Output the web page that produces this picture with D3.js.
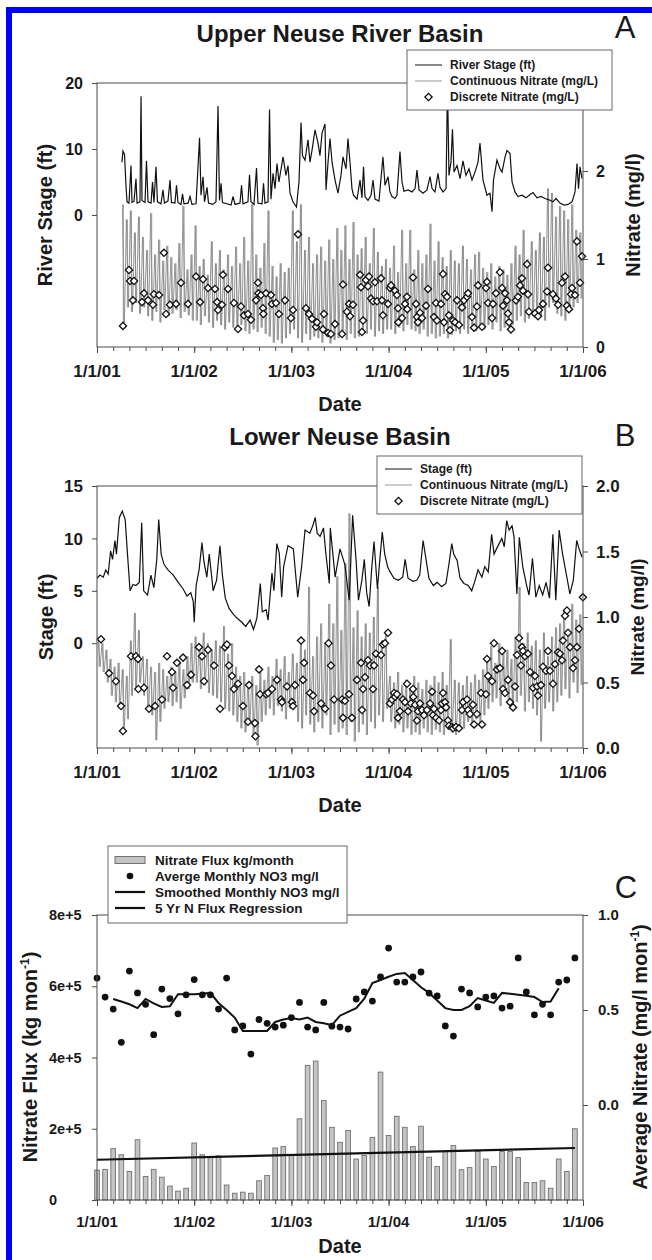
<!DOCTYPE html>
<html><head><meta charset="utf-8">
<script src="https://cdn.jsdelivr.net/npm/d3@7"></script>
<style>
html,body{margin:0;padding:0;background:#fff;}
svg{display:block;font-family:"Liberation Sans",Arial,Helvetica,sans-serif;}
</style></head><body>
<svg id="chart" width="652" height="1260"></svg>
<script>
// ---------------- DATA ----------------
// x values are years since 1/1/01
const yearTicks = [0,1,2,3,4,5];
const yearLabels = ["1/1/01","1/1/02","1/1/03","1/1/04","1/1/05","1/1/06"];

// Panel A: Upper Neuse River Basin
const stageA = [[0.257,8.0],[0.267,9.7],[0.283,9.2],[0.298,4.5],[0.309,2.0],[0.329,1.8],[0.350,7.5],[0.360,1.9],[0.381,2.1],[0.401,5.5],[0.412,1.8],[0.442,2.0],[0.453,18.0],[0.463,2.2],[0.494,1.9],[0.509,8.2],[0.525,2.0],[0.556,1.8],[0.571,5.0],[0.586,1.9],[0.607,7.3],[0.622,2.0],[0.658,1.7],[0.679,3.8],[0.694,1.8],[0.730,2.1],[0.751,5.3],[0.766,1.9],[0.802,1.8],[0.818,4.5],[0.833,1.9],[0.864,1.6],[0.880,3.2],[0.895,1.7],[0.936,1.8],[0.957,2.8],[0.977,1.6],[1.019,1.7],[1.055,11.7],[1.070,3.0],[1.091,5.8],[1.106,2.0],[1.132,4.2],[1.147,1.8],[1.193,1.6],[1.224,2.0],[1.245,16.5],[1.260,2.2],[1.276,4.8],[1.291,1.9],[1.337,1.7],[1.379,1.5],[1.399,2.8],[1.420,1.6],[1.471,1.8],[1.487,4.5],[1.502,1.7],[1.553,2.0],[1.569,6.1],[1.584,2.0],[1.615,1.6],[1.641,7.1],[1.656,1.8],[1.698,1.7],[1.713,4.8],[1.728,1.8],[1.759,2.0],[1.775,16.0],[1.790,2.4],[1.811,6.3],[1.831,4.0],[1.852,7.8],[1.872,5.0],[1.914,8.8],[1.944,6.0],[1.965,7.5],[1.986,3.3],[2.016,2.0],[2.052,1.2],[2.078,5.0],[2.099,14.0],[2.114,9.0],[2.140,8.3],[2.171,11.4],[2.191,8.0],[2.212,9.8],[2.243,12.9],[2.274,10.9],[2.294,9.0],[2.315,12.4],[2.346,13.8],[2.356,3.8],[2.377,8.0],[2.397,11.6],[2.418,8.0],[2.449,5.3],[2.479,3.3],[2.510,6.0],[2.531,8.8],[2.562,7.0],[2.582,11.6],[2.603,8.0],[2.623,4.0],[2.639,3.0],[2.675,2.4],[2.706,5.3],[2.726,2.6],[2.742,7.3],[2.757,2.8],[2.788,2.2],[2.819,3.0],[2.840,5.3],[2.860,2.4],[2.901,2.1],[2.942,8.8],[2.963,4.5],[2.994,5.8],[3.014,3.5],[3.035,2.8],[3.066,2.5],[3.086,3.0],[3.117,9.6],[3.138,5.0],[3.158,3.6],[3.200,3.8],[3.241,3.5],[3.272,4.0],[3.292,6.8],[3.313,3.8],[3.354,3.3],[3.395,3.8],[3.426,5.8],[3.447,4.0],[3.477,3.5],[3.508,6.3],[3.529,4.2],[3.560,3.5],[3.591,4.0],[3.606,20.0],[3.621,6.0],[3.642,8.0],[3.657,13.0],[3.673,6.5],[3.704,7.5],[3.735,5.5],[3.765,8.2],[3.796,6.0],[3.827,7.0],[3.858,5.3],[3.889,6.5],[3.920,8.0],[3.940,10.9],[3.971,5.3],[4.012,3.0],[4.043,3.3],[4.064,0.5],[4.079,5.3],[4.115,8.3],[4.146,7.0],[4.167,6.5],[4.198,8.8],[4.218,9.8],[4.249,9.3],[4.270,5.0],[4.300,3.5],[4.331,2.8],[4.372,3.0],[4.414,2.6],[4.455,3.1],[4.486,3.4],[4.527,2.6],[4.568,2.8],[4.609,2.5],[4.650,2.3],[4.691,2.0],[4.722,2.5],[4.763,1.8],[4.804,1.5],[4.846,1.6],[4.887,2.0],[4.918,3.5],[4.938,7.8],[4.954,4.0],[4.969,7.3],[4.990,5.5]];

// continuous nitrate A: half-month bins, peak and dip per bin
const contAStart = 0.25;
const contAHi = [1.62,1.45,1.55,1.30,1.48,1.25, 1.10,1.52,1.05,1.22,0.98,1.15, 1.02,0.95,1.18,1.60,0.88,1.05, 1.38,0.92,1.00,0.82,1.20,0.95, 1.10,0.88,1.05,0.92,1.14,0.95, 1.25,0.98,1.62,1.05,0.90,1.18, 1.55,0.92,0.80,0.95,0.85,0.90, 1.55,1.20,1.62,1.10,1.25,0.95, 1.05,1.14,0.98,1.22,1.00,1.35, 1.10,1.38,1.00,1.42,1.05,1.12, 1.25,0.95,1.35,1.08,0.92,1.00, 0.90,1.15,0.85,1.33,0.95,1.33, 0.88,1.10,0.95,1.05,1.40,0.98, 1.20,1.02,0.92,1.10,0.98,0.95, 1.15,1.00,0.88,1.05,1.08,0.90, 0.85,0.95,0.80,0.92,0.88,0.82, 0.95,1.15,1.05,1.33,1.00,1.20, 1.10,1.30,1.25,1.80,1.75,1.48, 1.60,1.55,1.45,1.62,1.33,1.30];
const contALo = [0.22,0.45,0.40,0.50,0.38,0.45, 0.35,0.30,0.40,0.28,0.42,0.35, 0.38,0.42,0.33,0.40,0.36,0.30, 0.30,0.25,0.35,0.28,0.22,0.30, 0.25,0.20,0.28,0.22,0.18,0.25, 0.18,0.15,0.20,0.17,0.22,0.15, 0.12,0.05,0.08,0.04,0.10,0.15, 0.20,0.10,0.05,0.15,0.08,0.12, 0.10,0.05,0.12,0.04,0.08,0.10, 0.12,0.08,0.15,0.10,0.12,0.18, 0.15,0.20,0.12,0.18,0.15,0.20, 0.20,0.15,0.22,0.18,0.25,0.20, 0.18,0.15,0.20,0.12,0.15,0.10, 0.12,0.15,0.10,0.14,0.18,0.15, 0.20,0.15,0.22,0.18,0.25,0.20, 0.25,0.20,0.28,0.18,0.22,0.25, 0.25,0.30,0.35,0.28,0.32,0.35, 0.40,0.35,0.30,0.45,0.50,0.38, 0.35,0.30,0.40,0.45,0.50,0.55];

const discA = [[0.267,0.24],[0.329,0.875],[0.340,0.75],[0.370,0.53],[0.381,0.75],[0.463,0.51],[0.484,0.61],[0.525,0.53],[0.576,0.48],[0.586,0.60],[0.638,0.59],[0.689,1.07],[0.710,0.375],[0.751,0.48],[0.813,0.49],[0.864,0.73],[0.936,0.49],[1.019,0.80],[1.060,0.51],[1.091,0.77],[1.142,0.67],[1.214,0.66],[1.235,0.51],[1.245,0.42],[1.286,0.48],[1.296,0.82],[1.348,0.66],[1.409,0.50],[1.451,0.205],[1.481,0.46],[1.512,0.36],[1.553,0.375],[1.584,0.31],[1.636,0.53],[1.656,0.73],[1.660,0.61],[1.687,0.59],[1.708,0.44],[1.712,0.375],[1.739,0.61],[1.790,0.59],[1.800,0.49],[1.842,0.50],[1.872,0.375],[1.934,0.53],[1.996,0.33],[2.016,0.42],[2.068,1.28],[2.150,0.44],[2.181,0.375],[2.212,0.32],[2.253,0.23],[2.263,0.28],[2.325,0.20],[2.335,0.375],[2.377,0.16],[2.407,0.148],[2.449,0.26],[2.521,0.148],[2.531,0.71],[2.572,0.40],[2.593,0.49],[2.603,0.35],[2.634,0.48],[2.706,0.82],[2.716,0.68],[2.726,0.17],[2.737,0.30],[2.767,0.76],[2.788,0.69],[2.798,0.80],[2.819,0.55],[2.840,0.52],[2.860,0.735],[2.881,0.52],[2.922,0.78],[2.932,0.53],[2.942,0.36],[2.994,0.49],[3.014,0.67],[3.025,0.70],[3.066,0.64],[3.086,0.59],[3.097,0.44],[3.100,0.28],[3.138,0.33],[3.169,0.49],[3.189,0.57],[3.192,0.43],[3.251,0.79],[3.282,0.49],[3.292,0.34],[3.302,0.28],[3.323,0.39],[3.344,0.33],[3.385,0.47],[3.405,0.66],[3.467,0.34],[3.488,0.50],[3.498,0.30],[3.539,0.49],[3.560,0.83],[3.570,0.28],[3.580,0.60],[3.601,0.57],[3.621,0.36],[3.632,0.19],[3.663,0.30],[3.683,0.28],[3.704,0.53],[3.724,0.25],[3.755,0.45],[3.776,0.53],[3.807,0.57],[3.817,0.61],[3.858,0.34],[3.879,0.22],[3.909,0.46],[3.920,0.70],[3.961,0.23],[4.002,0.67],[4.012,0.74],[4.023,0.50],[4.064,0.33],[4.074,0.49],[4.105,0.61],[4.146,0.85],[4.167,0.67],[4.177,0.47],[4.198,0.61],[4.218,0.53],[4.228,0.38],[4.239,0.28],[4.259,0.20],[4.311,0.53],[4.331,0.57],[4.352,0.70],[4.372,0.78],[4.383,0.64],[4.424,0.94],[4.434,0.60],[4.444,0.40],[4.506,0.38],[4.537,0.35],[4.547,0.42],[4.588,0.49],[4.630,0.63],[4.640,0.90],[4.691,0.60],[4.722,0.55],[4.743,0.48],[4.784,0.73],[4.815,0.80],[4.835,0.47],[4.856,0.43],[4.877,0.60],[4.887,0.67],[4.918,0.59],[4.938,1.20],[4.969,0.73],[4.990,1.03]];

// Panel B: Lower Neuse Basin
const stageB = [[0,6.2],[0.03,6.5],[0.065,6.3],[0.09,7.0],[0.115,6.6],[0.14,8.8],[0.16,8.0],[0.185,9.8],[0.2,8.5],[0.23,12.0],[0.26,12.6],[0.29,11.8],[0.31,9.0],[0.34,5.0],[0.37,5.6],[0.40,5.5],[0.435,5.8],[0.46,11.5],[0.48,5.0],[0.52,4.6],[0.555,6.5],[0.585,5.3],[0.615,8.0],[0.635,11.8],[0.66,8.5],[0.69,7.5],[0.73,7.0],[0.785,6.5],[0.835,5.8],[0.885,5.2],[0.925,4.5],[0.965,4.8],[0.99,4.0],[1.0,2.0],[1.02,5.5],[1.05,7.0],[1.08,9.6],[1.10,7.8],[1.13,6.3],[1.155,8.5],[1.195,5.0],[1.23,6.0],[1.265,9.3],[1.29,6.5],[1.32,4.3],[1.36,3.3],[1.40,2.8],[1.44,2.4],[1.49,2.0],[1.53,1.6],[1.575,2.2],[1.61,1.3],[1.645,2.4],[1.68,5.7],[1.70,3.0],[1.74,3.2],[1.76,2.2],[1.80,6.7],[1.82,5.0],[1.85,9.5],[1.875,8.6],[1.90,4.4],[1.92,7.3],[1.965,9.3],[2.02,9.0],[2.065,4.4],[2.105,7.3],[2.14,10.8],[2.19,10.5],[2.22,11.2],[2.245,12.0],[2.265,10.5],[2.295,10.2],[2.33,11.0],[2.355,8.5],[2.39,5.7],[2.40,11.0],[2.45,6.3],[2.50,9.0],[2.55,7.5],[2.595,4.1],[2.63,12.2],[2.665,8.0],[2.69,4.1],[2.725,6.0],[2.75,8.0],[2.775,4.8],[2.80,3.5],[2.825,7.0],[2.85,9.7],[2.885,5.2],[2.91,8.0],[2.935,10.6],[2.96,8.5],[2.99,7.3],[3.015,6.8],[3.055,6.2],[3.10,6.0],[3.145,6.3],[3.17,8.0],[3.20,6.2],[3.25,5.9],[3.29,6.0],[3.32,6.5],[3.355,9.8],[3.385,8.0],[3.415,6.2],[3.46,5.5],[3.50,5.8],[3.545,5.4],[3.59,5.7],[3.62,7.5],[3.65,9.5],[3.67,8.5],[3.705,7.9],[3.735,6.2],[3.775,5.7],[3.82,5.5],[3.855,5.0],[3.89,6.0],[3.92,7.0],[3.96,6.3],[3.99,7.3],[4.025,6.8],[4.06,10.4],[4.085,8.5],[4.11,9.0],[4.165,10.0],[4.19,9.2],[4.215,11.7],[4.24,10.8],[4.27,11.2],[4.29,10.2],[4.32,4.7],[4.345,10.1],[4.38,7.3],[4.42,5.5],[4.445,4.6],[4.48,8.1],[4.515,4.4],[4.55,5.5],[4.585,4.6],[4.62,5.8],[4.655,4.3],[4.69,10.4],[4.72,4.1],[4.755,10.8],[4.79,8.5],[4.83,6.5],[4.865,4.7],[4.90,6.0],[4.935,9.8],[4.96,9.0],[4.99,8.2]];

const contBStart = 0;
const contBHi = [0.85,0.80,0.75,0.68,0.62,0.65, 0.60,0.55,0.82,1.03,0.90,0.70, 0.68,0.62,0.58,0.65,0.60,0.55, 0.62,0.58,0.65,0.60,0.70,0.80, 0.85,0.78,0.88,0.80,0.75,0.82, 0.78,0.93,0.72,0.80,0.62,0.55, 0.58,0.50,0.55,0.48,0.60,0.52, 0.62,0.55,0.68,0.60,0.70,0.58, 0.72,0.65,0.80,0.75,1.23,0.70, 0.85,0.95,0.80,1.10,0.95,1.31, 0.90,1.41,1.79,0.92,1.05,0.85, 0.95,0.88,1.00,1.23,0.82,0.90, 0.55,0.50,0.58,0.48,0.52,0.45, 0.55,0.50,0.45,0.52,0.48,0.55, 0.50,0.58,0.48,0.83,0.52,0.50, 0.48,0.55,0.50,0.56,0.52,0.60, 0.70,0.78,0.65,0.80,0.72,0.75, 0.68,0.85,1.23,0.80,0.88,0.78, 0.82,0.75,0.88,0.70,0.85,0.92, 0.95,1.05,0.90,1.10,0.98,1.02];
const contBLo = [0.62,0.58,0.50,0.40,0.35,0.30, 0.15,0.22,0.40,0.45,0.50,0.40, 0.30,0.25,0.06,0.20,0.30,0.35, 0.32,0.35,0.30,0.38,0.45,0.50, 0.50,0.45,0.48,0.42,0.40,0.38, 0.35,0.30,0.28,0.25,0.20,0.15, 0.12,0.18,0.10,0.02,0.20,0.25, 0.30,0.25,0.32,0.28,0.22,0.30, 0.30,0.20,0.15,0.25,0.18,0.12, 0.20,0.15,0.25,0.10,0.18,0.12, 0.15,0.10,0.20,0.05,0.12,0.18, 0.10,0.20,0.15,0.25,0.20,0.30, 0.20,0.15,0.18,0.12,0.15,0.10, 0.12,0.10,0.15,0.12,0.10,0.14, 0.12,0.10,0.14,0.12,0.10,0.15, 0.15,0.20,0.18,0.22,0.18,0.25, 0.30,0.35,0.38,0.32,0.40,0.35, 0.30,0.35,0.40,0.28,0.35,0.30, 0.25,0.05,0.30,0.35,0.28,0.35, 0.40,0.45,0.38,0.50,0.42,0.48];

const discB = [[0.041,0.83],[0.123,0.57],[0.195,0.51],[0.247,0.32],[0.267,0.13],[0.350,0.70],[0.401,0.70],[0.422,0.68],[0.425,0.45],[0.484,0.46],[0.535,0.30],[0.597,0.32],[0.669,0.37],[0.720,0.70],[0.772,0.58],[0.782,0.46],[0.823,0.65],[0.885,0.69],[0.926,0.48],[0.967,0.56],[1.049,0.77],[1.080,0.70],[1.101,0.51],[1.142,0.75],[1.204,0.63],[1.265,0.30],[1.317,0.77],[1.337,0.79],[1.358,0.63],[1.389,0.55],[1.409,0.45],[1.451,0.49],[1.502,0.32],[1.553,0.20],[1.564,0.48],[1.625,0.19],[1.630,0.09],[1.667,0.60],[1.677,0.41],[1.739,0.41],[1.759,0.42],[1.800,0.45],[1.852,0.52],[1.893,0.37],[1.903,0.35],[1.955,0.47],[2.006,0.35],[2.016,0.32],[2.037,0.48],[2.099,0.82],[2.119,0.52],[2.130,0.65],[2.191,0.42],[2.222,0.40],[2.233,0.28],[2.305,0.34],[2.346,0.30],[2.382,0.80],[2.407,0.63],[2.438,0.37],[2.521,0.37],[2.531,0.23],[2.551,0.36],[2.593,0.41],[2.623,0.23],[2.675,0.52],[2.716,0.65],[2.726,0.29],[2.737,0.45],[2.757,0.54],[2.788,0.67],[2.809,0.63],[2.840,0.45],[2.850,0.63],[2.870,0.72],[2.922,0.71],[2.942,0.79],[2.963,0.80],[2.994,0.88],[3.014,0.34],[3.035,0.37],[3.056,0.42],[3.066,0.39],[3.086,0.41],[3.097,0.23],[3.117,0.28],[3.148,0.37],[3.169,0.35],[3.189,0.49],[3.200,0.28],[3.230,0.34],[3.251,0.45],[3.255,0.39],[3.272,0.33],[3.292,0.21],[3.302,0.28],[3.323,0.34],[3.344,0.29],[3.364,0.25],[3.395,0.29],[3.426,0.34],[3.447,0.43],[3.457,0.25],[3.467,0.30],[3.488,0.23],[3.519,0.21],[3.539,0.29],[3.549,0.34],[3.560,0.42],[3.580,0.35],[3.591,0.31],[3.611,0.21],[3.621,0.17],[3.652,0.16],[3.663,0.15],[3.693,0.16],[3.724,0.15],[3.755,0.29],[3.765,0.35],[3.807,0.37],[3.817,0.29],[3.837,0.26],[3.868,0.33],[3.879,0.18],[3.909,0.26],[3.951,0.42],[3.961,0.18],[4.002,0.41],[4.012,0.68],[4.023,0.55],[4.064,0.51],[4.084,0.80],[4.115,0.60],[4.146,0.61],[4.167,0.74],[4.177,0.45],[4.198,0.42],[4.228,0.52],[4.249,0.35],[4.280,0.31],[4.300,0.47],[4.321,0.71],[4.342,0.84],[4.362,0.63],[4.372,0.77],[4.383,0.74],[4.403,0.70],[4.434,0.72],[4.455,0.58],[4.486,0.46],[4.506,0.55],[4.527,0.47],[4.537,0.40],[4.568,0.48],[4.588,0.62],[4.619,0.59],[4.640,0.74],[4.660,0.59],[4.691,0.49],[4.712,0.64],[4.743,0.73],[4.763,0.72],[4.784,0.67],[4.794,0.82],[4.815,1.01],[4.835,1.05],[4.846,0.88],[4.866,0.77],[4.897,0.61],[4.918,0.67],[4.938,0.77],[4.959,0.91],[4.999,1.15]];

// Panel C: monthly values Jan 2001 .. Dec 2005
const fluxMonthly = [84000,86000,144000,127000,80000,169000,66000,86000,64000,39000,25000,33000,
  160000,127000,122000,124000,42000,19000,22000,19000,54000,69000,146000,150000,
  125000,228000,378000,390000,279000,204000,162000,195000,115000,125000,176000,359000,
  181000,235000,204000,150000,207000,120000,94000,136000,153000,85000,91000,136000,
  115000,94000,136000,136000,119000,49000,49000,54000,33000,115000,80000,200000];
const avgNO3 = [0.668,0.568,0.505,0.33,0.705,0.59,0.53,0.37,0.61,0.56,0.48,0.58,
  0.66,0.58,0.58,0.505,0.668,0.395,0.416,0.268,0.45,0.43,0.41,0.42,
  0.46,0.54,0.41,0.395,0.54,0.415,0.41,0.40,0.558,0.595,0.547,0.674,
  0.826,0.647,0.647,0.674,0.70,0.589,0.574,0.416,0.363,0.61,0.59,0.516,
  0.568,0.574,0.51,0.52,0.774,0.595,0.474,0.53,0.474,0.647,0.658,0.774];
const smoothStartMonth = 2;
const smoothNO3 = [0.558,0.545,0.53,0.51,0.558,0.535,0.516,0.52,0.583,0.583,0.583,0.585,0.59,0.537,0.50,0.46,0.39,0.39,0.39,0.39,0.437,0.45,0.458,0.45,0.46,0.437,0.43,0.42,0.47,0.49,0.51,0.56,0.642,0.658,0.675,0.69,0.695,0.658,0.62,0.59,0.55,0.51,0.50,0.50,0.52,0.563,0.55,0.537,0.59,0.585,0.58,0.575,0.568,0.542,0.545,0.615];
const regressionMonths = [0, 59];
const regressionFlux = [113000, 146000];

// ---------------- DRAWING ----------------
const svg = d3.select("#chart");
const TXT = "#1a1a1a", AX = "#4a4a4a";
const X0 = 97, X1 = 583;
const x = d3.scaleLinear().domain([0,5]).range([X0,X1]);
const minorTicks = d3.range(0, 5.001, 1/6);

// blue border
svg.append("rect").attr("x",6).attr("y",7).attr("width",6).attr("height",1253).attr("fill","#0000ff");
svg.append("rect").attr("x",6).attr("y",7).attr("width",646).attr("height",6).attr("fill","#0000ff");

function frame(yTop, yBot){
  svg.append("rect").attr("x",X0).attr("y",yTop).attr("width",X1-X0).attr("height",yBot-yTop)
    .attr("fill","none").attr("stroke",AX).attr("stroke-width",1);
}
function styleAxis(g){
  g.select(".domain").remove();
  g.selectAll("line").attr("stroke",AX).attr("stroke-width",1);
}
function xAxis(yBot, fs, labBase, dateBase){
  svg.append("g").attr("transform",`translate(0,${yBot})`)
    .call(d3.axisBottom(x).tickValues(minorTicks).tickSize(4).tickFormat("")).call(styleAxis);
  svg.append("g").attr("transform",`translate(0,${yBot})`)
    .call(d3.axisBottom(x).tickValues(yearTicks).tickSize(6).tickFormat("")).call(styleAxis);
  svg.append("g").selectAll("text").data(yearTicks).enter().append("text")
    .attr("x",d=>x(d)).attr("y",labBase).attr("text-anchor","middle")
    .attr("font-size",fs).attr("font-weight","bold").attr("fill",TXT)
    .text((d,i)=>yearLabels[i]);
  svg.append("text").attr("x",(X0+X1)/2).attr("y",dateBase).attr("text-anchor","middle")
    .attr("font-size",20).attr("font-weight","bold").attr("fill",TXT).text("Date");
}
function yLeft(scale, ticks, labels, fs, anchor, lx){
  svg.append("g").attr("transform",`translate(${X0},0)`)
    .call(d3.axisLeft(scale).tickValues(ticks).tickSize(5).tickFormat("")).call(styleAxis);
  svg.append("g").selectAll("text").data(ticks).enter().append("text")
    .attr("x",lx).attr("y",d=>scale(d)).attr("dy","0.36em").attr("text-anchor",anchor)
    .attr("font-size",fs).attr("font-weight","bold").attr("fill",TXT).text((d,i)=>labels[i]);
}
function yRight(scale, ticks, labels, fs, lx){
  svg.append("g").attr("transform",`translate(${X1},0)`)
    .call(d3.axisRight(scale).tickValues(ticks).tickSize(5).tickFormat("")).call(styleAxis);
  svg.append("g").selectAll("text").data(ticks).enter().append("text")
    .attr("x",lx).attr("y",d=>scale(d)).attr("dy","0.36em").attr("text-anchor","start")
    .attr("font-size",fs).attr("font-weight","bold").attr("fill",TXT).text((d,i)=>labels[i]);
}
function vLabel(cx, cy, parts, fs){
  const t = svg.append("text").attr("transform",`translate(${cx},${cy}) rotate(-90)`)
    .attr("text-anchor","middle").attr("dy","0.36em")
    .attr("font-size",fs).attr("font-weight","bold").attr("fill",TXT);
  parts.forEach(p=>{
    const s = t.append("tspan").text(p.t);
    if(p.sup){ s.attr("font-size",fs*0.6).attr("dy","-0.7em"); }
    if(p.down){ s.attr("dy","0.42em"); }
  });
}
function title(txt, cy, letter, ly){
  svg.append("text").attr("x",340).attr("y",cy).attr("text-anchor","middle")
    .attr("font-size",24).attr("font-weight","bold").attr("fill",TXT).text(txt);
  svg.append("text").attr("x",625).attr("y",ly).attr("text-anchor","middle")
    .attr("font-size",31).attr("font-weight","normal").attr("fill",TXT).text(letter);
}
function clip(id, yTop, yBot){
  svg.append("clipPath").attr("id",id).append("rect")
    .attr("x",X0).attr("y",yTop).attr("width",X1-X0).attr("height",yBot-yTop);
}
function zigzag(start, hi, lo){
  const pts = [];
  hi.forEach((h,k)=>{ pts.push([start+(k+0.25)/24, h]); pts.push([start+(k+0.75)/24, lo[k]]); });
  return pts;
}
const diamond = d3.symbol().type(d3.symbolSquare).size(26);

function timePanel(o){
  clip(o.id, o.yTop, o.yBot);
  const g = svg.append("g").attr("clip-path",`url(#${o.id})`);
  const cont = zigzag(o.contStart, o.contHi, o.contLo);
  // vertical range strokes per bin (dip to peak)
  g.append("g").selectAll("line").data(o.contHi).enter().append("line")
    .attr("x1",(d,k)=>x(o.contStart+(k+0.5)/24)).attr("x2",(d,k)=>x(o.contStart+(k+0.5)/24))
    .attr("y1",(d,k)=>o.yR(o.contLo[k])).attr("y2",d=>o.yR(d))
    .attr("stroke","#999").attr("stroke-width",1);
  g.append("path").datum(cont)
    .attr("d", d3.line().x(d=>x(d[0])).y(d=>o.yR(d[1])))
    .attr("fill","none").attr("stroke","#8a8a8a").attr("stroke-width",0.9);
  g.append("path").datum(o.stage)
    .attr("d", d3.line().x(d=>x(d[0])).y(d=>o.yL(d[1])))
    .attr("fill","none").attr("stroke","#111").attr("stroke-width",1.2);
  svg.append("g").selectAll("path").data(o.disc).enter().append("path")
    .attr("d",diamond)
    .attr("transform",d=>`translate(${x(d[0])},${o.yR(d[1])}) rotate(45)`)
    .attr("fill","#fff").attr("stroke","#111").attr("stroke-width",1.3);
  frame(o.yTop, o.yBot);
}

// ---------- Panel A ----------
const yA = d3.scaleLinear().domain([-20,20]).range([347,83]);
const yA2 = d3.scaleLinear().domain([0,3]).range([347,83]);
timePanel({id:"cA", yTop:83, yBot:347, yL:yA, yR:yA2, stage:stageA, contStart:contAStart, contHi:contAHi, contLo:contALo, disc:discA});
xAxis(347, 17, 377, 411);
yLeft(yA, [0,10,20], ["0","10","20"], 16, "end", 83);
yRight(yA2, [0,1,2], ["0","1","2"], 16, 596);
vLabel(45, 215, [{t:"River Stage (ft)"}], 20);
vLabel(633, 215, [{t:"Nitrate (mg/l)"}], 20);
title("Upper Neuse River Basin", 42, "A", 38);

function legend(bx, by, bw, bh, rows, sx0, sx1, tx, fs){
  svg.append("rect").attr("x",bx).attr("y",by).attr("width",bw).attr("height",bh)
    .attr("fill","#fff").attr("stroke","#666").attr("stroke-width",1);
  rows.forEach(r=>{
    if(r.type==="line"){
      svg.append("line").attr("x1",sx0).attr("x2",sx1).attr("y1",r.y).attr("y2",r.y)
        .attr("stroke",r.color).attr("stroke-width",r.w);
    } else if(r.type==="diamond"){
      svg.append("path").attr("d",diamond).attr("transform",`translate(${(sx0+sx1)/2},${r.y}) rotate(45)`)
        .attr("fill","#fff").attr("stroke","#111").attr("stroke-width",1.3);
    } else if(r.type==="dot"){
      svg.append("circle").attr("cx",(sx0+sx1)/2).attr("cy",r.y).attr("r",3.3).attr("fill","#111");
    } else if(r.type==="bar"){
      svg.append("rect").attr("x",sx0).attr("y",r.y-3.5).attr("width",sx1-sx0).attr("height",7)
        .attr("fill","#c4c4c4").attr("stroke","#707070").attr("stroke-width",1);
    }
    svg.append("text").attr("x",tx).attr("y",r.y).attr("dy","0.36em")
      .attr("font-size",fs).attr("font-weight","bold").attr("fill",TXT).text(r.label);
  });
}
legend(407,50,205,60,[
  {type:"line",color:"#111",w:1,y:65,label:"River Stage (ft)"},
  {type:"line",color:"#999",w:1,y:81,label:"Continuous Nitrate (mg/L)"},
  {type:"diamond",y:97,label:"Discrete Nitrate (mg/L)"}],415,442,450,12);

// ---------- Panel B ----------
const yB = d3.scaleLinear().domain([-10,15]).range([748,486]);
const yB2 = d3.scaleLinear().domain([0,2]).range([748,486]);
timePanel({id:"cB", yTop:486, yBot:748, yL:yB, yR:yB2, stage:stageB, contStart:contBStart, contHi:contBHi, contLo:contBLo, disc:discB});
xAxis(748, 17, 778, 812);
yLeft(yB, [0,5,10,15], ["0","5","10","15"], 17, "end", 83);
yRight(yB2, [0,0.5,1,1.5,2], ["0.0","0.5","1.0","1.5","2.0"], 17, 596);
vLabel(46, 617, [{t:"Stage (ft)"}], 20);
vLabel(637, 617, [{t:"Nitrate (mg/l)"}], 19);
title("Lower Neuse Basin", 445, "B", 446);
legend(377,456,205,58,[
  {type:"line",color:"#111",w:1,y:469,label:"Stage (ft)"},
  {type:"line",color:"#999",w:1,y:485,label:"Continuous Nitrate (mg/L)"},
  {type:"diamond",y:501,label:"Discrete Nitrate (mg/L)"}],385,412,420,12);

// ---------- Panel C ----------
const yC = d3.scaleLinear().domain([0,800000]).range([1200,915]);
const yC2 = d3.scaleLinear().domain([-0.5,1.0]).range([1200,915]);
const xm = m => x(m/12);
const barW = (x(1/12)-x(0))*0.58;
const gC = svg.append("g");
gC.selectAll("rect").data(fluxMonthly).enter().append("rect")
  .attr("x",(d,i)=>xm(i)-barW/2).attr("width",barW)
  .attr("y",d=>yC(d)).attr("height",d=>yC(0)-yC(d))
  .attr("fill","#c4c4c4").attr("stroke","#707070").attr("stroke-width",0.9);
svg.append("line")
  .attr("x1",xm(regressionMonths[0])).attr("y1",yC(regressionFlux[0]))
  .attr("x2",xm(regressionMonths[1])).attr("y2",yC(regressionFlux[1]))
  .attr("stroke","#111").attr("stroke-width",2.2);
svg.append("g").selectAll("circle").data(avgNO3).enter().append("circle")
  .attr("cx",(d,i)=>xm(i)).attr("cy",d=>yC2(d)).attr("r",3.4).attr("fill","#111");
svg.append("path").datum(smoothNO3)
  .attr("d", d3.line().x((d,i)=>xm(i+smoothStartMonth)).y(d=>yC2(d)))
  .attr("fill","none").attr("stroke","#111").attr("stroke-width",2);
frame(915,1200);
xAxis(1200, 15, 1227, 1253);
yLeft(yC, [0,200000,400000,600000,800000], ["0","2e+5","4e+5","6e+5","8e+5"], 14.5, "start", 49);
yRight(yC2, [0,0.5,1.0], ["0.0","0.5","1.0"], 15, 598);
vLabel(30, 1057, [{t:"Nitrate Flux (kg mon"},{t:"-1",sup:true},{t:")",down:true}], 20);
vLabel(640, 1057, [{t:"Average Nitrate (mg/l mon"},{t:"-1",sup:true},{t:")",down:true}], 20);
svg.append("text").attr("x",626).attr("y",898).attr("text-anchor","middle")
  .attr("font-size",31).attr("fill",TXT).text("C");
legend(108,846,239,77,[
  {type:"bar",y:860,label:"Nitrate Flux kg/month"},
  {type:"dot",y:876,label:"Averge Monthly NO3 mg/l"},
  {type:"line",color:"#111",w:2.2,y:892,label:"Smoothed Monthly NO3 mg/l"},
  {type:"line",color:"#111",w:2.2,y:908,label:"5 Yr N Flux Regression"}],115,145,155,13.5);
</script>
</body></html>
